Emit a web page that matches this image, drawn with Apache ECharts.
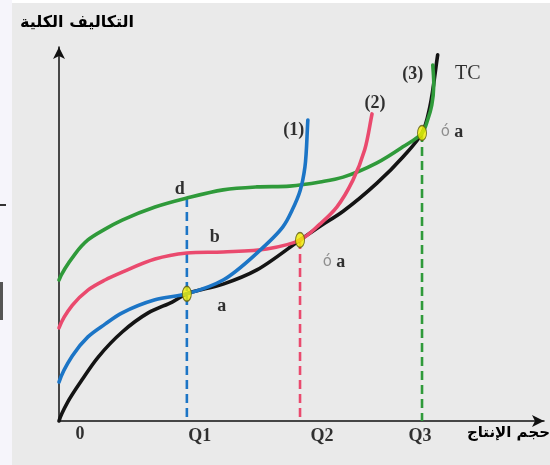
<!DOCTYPE html>
<html>
<head>
<meta charset="utf-8">
<script src="https://cdn.jsdelivr.net/npm/echarts@6/dist/echarts.min.js"></script>
<style>
  html, body { margin: 0; padding: 0; background: #ffffff; }
  #chart { width: 550px; height: 465px; }
</style>
</head>
<body>
<div id="chart"></div>
<script>
// Output quantities marked on the horizontal axis
const quantityLabels = ['Q1', 'Q2', 'Q3'];
const quantityValues = [26.1, 49.2, 74.1];
const originLabel = '0';

// Cost at each tangency point (where a short-run curve touches TC)
const tangencyCosts = [34.0, 48.4, 77.0];
// Cost on curve (3) at Q1 (point d) and on curve (2) at Q1 (point b)
const costD = 59.6;
const costB = 44.9;

// Long-run total cost curve TC
const tcCurve = [[0, 0], [1.8, 5.1], [4.7, 11.0], [8.0, 17.1], [12.9, 23.8],
  [18.2, 28.9], [23.1, 31.8], [26.1, 34.0], [33.5, 36.6], [40.4, 40.4], [49.2, 48.4],
  [53.3, 52.1], [58.0, 56.1], [64.9, 63.6], [70.2, 70.6], [74.1, 77.0], [75.7, 84.0],
  [77.3, 97.9]];

// Short-run total cost curves (1), (2), (3)
const curve1 = [[0, 10.4], [2.7, 17.4], [5.9, 22.5], [9.4, 25.9],
  [12.9, 28.9], [19.6, 32.4], [26.1, 34.0], [33.5, 37.7], [40.4, 44.9], [45.7, 51.9],
  [47.6, 56.4], [49.2, 61.5], [50.2, 67.9], [50.8, 80.5]];
const curve2 = [[0, 24.9], [2.7, 30.9], [5.9, 35.0], [9.4, 37.7],
  [12.9, 39.8], [19.6, 43.3], [26.1, 44.9], [33.5, 45.2], [42.4, 46.0], [49.2, 48.4],
  [53.3, 52.7], [56.7, 57.2], [60.0, 64.4], [62.4, 72.5], [63.9, 82.1]];
const curve3 = [[0, 37.7], [3.3, 44.7], [5.9, 48.4], [9.4, 51.3],
  [12.9, 53.7], [19.6, 57.2], [26.1, 59.6], [33.5, 61.8], [40.4, 62.6], [47.1, 62.8],
  [53.3, 63.9], [58.0, 65.2], [64.9, 69.0], [70.2, 73.3], [74.1, 77.0], [75.3, 80.7],
  [76.1, 84.5], [76.5, 89.8], [76.3, 95.2]];

const curveNames = ['(1)', '(2)', '(3)'];
const yTitle = 'التكاليف الكلية';
const xTitle = 'حجم الإنتاج';

const BLUE = '#1c75c6';
const PINK = '#ea4a6e';
const GREEN = '#2f9a3a';
const BLACK = '#141414';
const SERIF = '"Liberation Serif", "DejaVu Serif", serif';
const ARABIC = '"DejaVu Sans", sans-serif';

// Centripetal Catmull-Rom spline through pixel points, written as cubic Bezier segments.
// Each curve leaves the vertical axis rising more steeply than its first chord.
function splinePath(pts) {
  const n = pts.length;
  const P = i => {
    if (i < 0) {
      const dx = pts[1][0] - pts[0][0], dy = pts[1][1] - pts[0][1];
      return [pts[0][0] - 0.3 * dx, pts[0][1] - dy];
    }
    if (i >= n) return [2 * pts[n - 1][0] - pts[n - 2][0], 2 * pts[n - 1][1] - pts[n - 2][1]];
    return pts[i];
  };
  const dist = (a, b) => Math.pow(Math.hypot(b[0] - a[0], b[1] - a[1]), 0.5) || 1e-6;
  let d = 'M' + pts[0][0] + ' ' + pts[0][1];
  for (let i = 0; i < n - 1; i++) {
    const p0 = P(i - 1), p1 = P(i), p2 = P(i + 1), p3 = P(i + 2);
    const d1 = dist(p0, p1), d2 = dist(p1, p2), d3 = dist(p2, p3);
    const b1 = [0, 1].map(k => (d1 * d1 * p2[k] - d2 * d2 * p0[k] + (2 * d1 * d1 + 3 * d1 * d2 + d2 * d2) * p1[k]) / (3 * d1 * (d1 + d2)));
    const b2 = [0, 1].map(k => (d3 * d3 * p1[k] - d2 * d2 * p3[k] + (2 * d3 * d3 + 3 * d3 * d2 + d2 * d2) * p2[k]) / (3 * d3 * (d3 + d2)));
    d += ' C' + b1[0] + ' ' + b1[1] + ' ' + b2[0] + ' ' + b2[1] + ' ' + p2[0] + ' ' + p2[1];
  }
  return d;
}

function curveSeries(points, color, z) {
  return {
    type: 'custom', data: points, silent: true, z: z, clip: false,
    renderItem: function (params, api) {
      if (params.dataIndex !== 0) return null;
      const px = points.map(p => api.coord(p));
      return {
        type: 'path',
        shape: { pathData: splinePath(px) },
        style: { stroke: color, lineWidth: 3.6, fill: null, lineCap: 'round', lineJoin: 'round' }
      };
    }
  };
}

function dropLine(x, top, color) {
  return {
    type: 'line', data: [[x, top], [x, 0]], showSymbol: false, silent: true, z: 1,
    lineStyle: { color: color, width: 2.6, type: [9, 5] }
  };
}

function textPoint(value, text, offset, style) {
  return {
    value: value,
    label: Object.assign({
      show: true, formatter: text, offset: offset, position: 'inside',
      fontFamily: SERIF, fontWeight: 'bold', fontSize: 18, color: '#000'
    }, style || {})
  };
}

const last = arr => arr[arr.length - 1];
const aRich = {
  o: { fontFamily: '"DejaVu Sans", sans-serif', fontSize: 15, color: '#777', fontWeight: 'normal' },
  a: { fontFamily: SERIF, fontSize: 18, fontWeight: 'bold', color: '#000' }
};

const labelData = [
  textPoint(last(curve1), curveNames[0], [-14, 10]),
  textPoint(last(curve2), curveNames[1], [3, -11]),
  textPoint(last(curve3), curveNames[2], [-20, 9]),
  textPoint(last(tcCurve), 'TC', [30, 19], { fontWeight: 'normal', fontSize: 20 }),
  textPoint([quantityValues[0], costD], 'd', [-7, -9]),
  textPoint([quantityValues[0], costB], 'b', [28, -16]),
  textPoint([quantityValues[0], tangencyCosts[0]], 'a', [35, 13]),
  textPoint([quantityValues[1], tangencyCosts[1]], '{o|ó} {a|a}', [34, 22], { rich: aRich }),
  textPoint([quantityValues[2], tangencyCosts[2]], '{o|ó} {a|a}', [30, -1], { rich: aRich }),
  textPoint([0, 0], originLabel, [21, 13]),
  textPoint([quantityValues[0], 0], quantityLabels[0], [13, 15]),
  textPoint([quantityValues[1], 0], quantityLabels[1], [22, 15]),
  textPoint([quantityValues[2], 0], quantityLabels[2], [-2, 15])
];

const chart = echarts.init(document.getElementById('chart'), null, { renderer: 'canvas' });

chart.setOption({
  animation: false,
  backgroundColor: '#ffffff',
  graphic: [
    { type: 'rect', z: -10, shape: { x: 12, y: 3, width: 538, height: 462 }, style: { fill: '#eaeaea' } },
    { type: 'rect', z: -10, shape: { x: 0, y: 0, width: 12, height: 465 }, style: { fill: '#f6f5fb' } },
    { type: 'rect', z: -9, shape: { x: 0, y: 204, width: 6, height: 2 }, style: { fill: '#333' } },
    { type: 'rect', z: -9, shape: { x: 0, y: 282, width: 3, height: 38 }, style: { fill: '#555' } },
    {
      type: 'text', left: 20, top: 15,
      style: { text: yTitle, font: 'bold 16px ' + ARABIC, fill: '#000' }
    },
    {
      type: 'text', right: 0, top: 426,
      style: { text: xTitle, font: 'bold 15px ' + ARABIC, fill: '#000' }
    }
  ],
  grid: { left: 59, top: 47, width: 485, height: 374 },
  xAxis: {
    type: 'value', min: 0, max: 99,
    axisLine: { show: true, onZero: false, symbol: ['none', 'arrow'], symbolSize: [9, 12],
      lineStyle: { color: '#111', width: 1.5 } },
    axisTick: { show: false }, axisLabel: { show: false }, splitLine: { show: false }
  },
  yAxis: {
    type: 'value', min: 0, max: 100,
    axisLine: { show: true, onZero: false, symbol: ['none', 'arrow'], symbolSize: [9, 12],
      lineStyle: { color: '#111', width: 1.5 } },
    axisTick: { show: false }, axisLabel: { show: false }, splitLine: { show: false }
  },
  series: [
    dropLine(quantityValues[0], costD, BLUE),
    dropLine(quantityValues[1], tangencyCosts[1], PINK),
    dropLine(quantityValues[2], tangencyCosts[2], GREEN),
    curveSeries(tcCurve, BLACK, 3),
    curveSeries(curve3, GREEN, 4),
    curveSeries(curve2, PINK, 5),
    curveSeries(curve1, BLUE, 6),
    {
      type: 'scatter', z: 10, silent: true,
      data: quantityValues.map((q, i) => [q, tangencyCosts[i]]),
      symbol: 'circle', symbolSize: [9, 15],
      itemStyle: { color: '#f3ef00', borderColor: '#5b5a10', borderWidth: 1.2 }
    },
    {
      type: 'scatter', z: 11, silent: true, symbolSize: 0,
      data: labelData
    }
  ]
});
</script>
</body>
</html>
